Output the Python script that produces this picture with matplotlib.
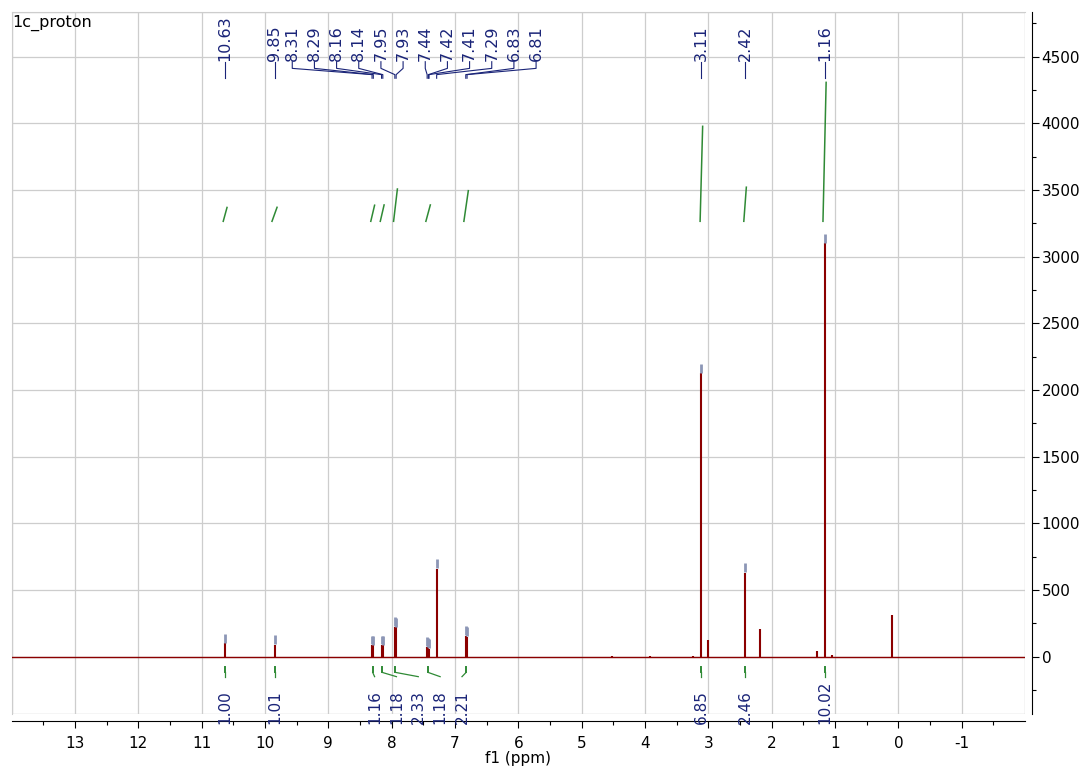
import matplotlib.pyplot as plt
import numpy as np
from matplotlib.patches import Rectangle
from matplotlib.ticker import MultipleLocator, FixedLocator

plt.rcParams['font.family'] = 'DejaVu Sans'
plt.rcParams['axes.unicode_minus'] = False

# spectrum lines: shift (ppm) and intensity
peak_ppm = [10.63, 9.85, 8.31, 8.29, 8.16, 8.14, 7.95, 7.93, 7.44, 7.42, 7.41,
            7.29, 6.83, 6.81, 4.52, 3.92, 3.25, 3.11, 3.01, 2.42, 2.19, 1.28,
            1.16, 1.05, 0.10]
peak_height = [100, 90, 88, 85, 88, 85, 225, 220, 75, 70, 60,
               660, 158, 150, 6, 6, 6, 2125, 125, 630, 207, 40,
               3100, 15, 312]

# picked peaks with their printed shifts
picked_ppm = [10.63, 9.85, 8.31, 8.29, 8.16, 8.14, 7.95, 7.93, 7.44, 7.42, 7.41,
              7.29, 6.83, 6.81, 3.11, 2.42, 1.16]
picked_text = ['10.63', '9.85', '8.31', '8.29', '8.16', '8.14', '7.95', '7.93',
               '7.44', '7.42', '7.41', '7.29', '6.83', '6.81', '3.11', '2.42', '1.16']

# integration regions (ppm) and integrals
integ_start = [10.66, 9.89, 8.33, 8.18, 7.97, 7.46, 6.86, 3.13, 2.44, 1.19]
integ_end = [10.60, 9.81, 8.27, 8.12, 7.91, 7.39, 6.79, 3.09, 2.40, 1.14]
integ_value = [1.00, 1.01, 1.16, 1.18, 2.33, 1.18, 2.21, 6.85, 2.46, 10.02]

spec_color = '#8b0000'
label_color = '#1a2478'
integ_color = '#2f8a35'
grid_color = '#cdcdcd'

fig = plt.figure(figsize=(10.83, 7.74), dpi=100)
ax = fig.add_axes([11.7 / 1083, 1 - 714 / 774, (1025 - 11.7) / 1083, (714 - 11.7) / 774])
ax.set_xlim(14.0, -2.0)
ax.set_ylim(-430, 4837)

# spectrum
ax.axhline(0, color=spec_color, lw=1.0, zorder=3)
ax.vlines(peak_ppm, 0, peak_height, color=spec_color, lw=1.5, zorder=3)

# peak-pick markers on top of the picked lines
height_of = dict(zip(peak_ppm, peak_height))
picked_h = np.array([height_of[p] for p in picked_ppm])
ax.vlines(picked_ppm, picked_h + 5, picked_h + 70, color='#8c96b6', lw=2.0, zorder=4)

# peak labels at the top; crowded aromatic ones are fanned out
label_x = list(picked_ppm)
label_x[2:14] = np.linspace(9.57, 5.72, 12)
for px, lx, txt in zip(picked_ppm, label_x, picked_text):
    ax.plot([lx, lx, px, px], [4462, 4412, 4365, 4338], color=label_color, lw=0.8, zorder=5)
    ax.text(lx, 4468, txt, rotation=90, ha='center', va='bottom', fontsize=11.5,
            color=label_color, zorder=5)

# integral curves
base, scale = 3265, 104
for s, e, v in zip(integ_start, integ_end, integ_value):
    ax.plot([s, e], [base, base + scale * v], color=integ_color, lw=1.1, zorder=4)

# integral brackets and values under the baseline
centers = [(s + e) / 2 for s, e in zip(integ_start, integ_end)]
ilabel_x = list(centers)
ilabel_x[2:7] = np.linspace(8.27, 6.89, 5)
for c, lx, v in zip(centers, ilabel_x, integ_value):
    ax.plot([c, c], [-75, -118], color=integ_color, lw=1.4, zorder=4)
    ax.plot([c, lx], [-118, -150], color=integ_color, lw=0.9, zorder=4)
    ax.text(lx, -505, f'{v:.2f}', rotation=90, ha='center', va='bottom', fontsize=11,
            color=label_color, zorder=6, clip_on=False)

# frame, grid and axes
for side in ['left', 'top']:
    ax.spines[side].set_color(grid_color)
ax.add_patch(Rectangle((0, 0), 1, 1, transform=ax.transAxes, fill=False,
                       ec=grid_color, lw=1.0, zorder=1))
ax.spines['right'].set_position(('outward', 5))
ax.spines['bottom'].set_position(('outward', 5))
ax.spines['right'].set_bounds(-430, 4837)

ax.yaxis.tick_right()
ax.yaxis.set_major_locator(FixedLocator(np.arange(0, 4501, 500)))
ax.yaxis.set_minor_locator(FixedLocator(np.arange(-250, 4800, 500)))
ax.xaxis.set_major_locator(FixedLocator(np.arange(13, -1.5, -1)))
ax.xaxis.set_minor_locator(FixedLocator(np.arange(13.5, -2, -1)))
ax.tick_params(which='major', length=5, width=0.8, labelsize=11, direction='out')
ax.tick_params(which='minor', length=3, width=0.8, direction='out')
ax.tick_params(axis='x', pad=6)
ax.tick_params(axis='y', pad=2)
ax.xaxis.set_major_formatter(plt.FuncFormatter(lambda v, p: f'{v:g}'))
ax.grid(True, which='major', color=grid_color, lw=0.9, zorder=0)
ax.set_axisbelow(True)
ax.set_xlabel('f1 (ppm)', fontsize=11, labelpad=0)

fig.text(12 / 1083, 1 - 15 / 774, '1c_proton', ha='left', va='top', fontsize=11.5)

fig.savefig('out.png', dpi=100)
